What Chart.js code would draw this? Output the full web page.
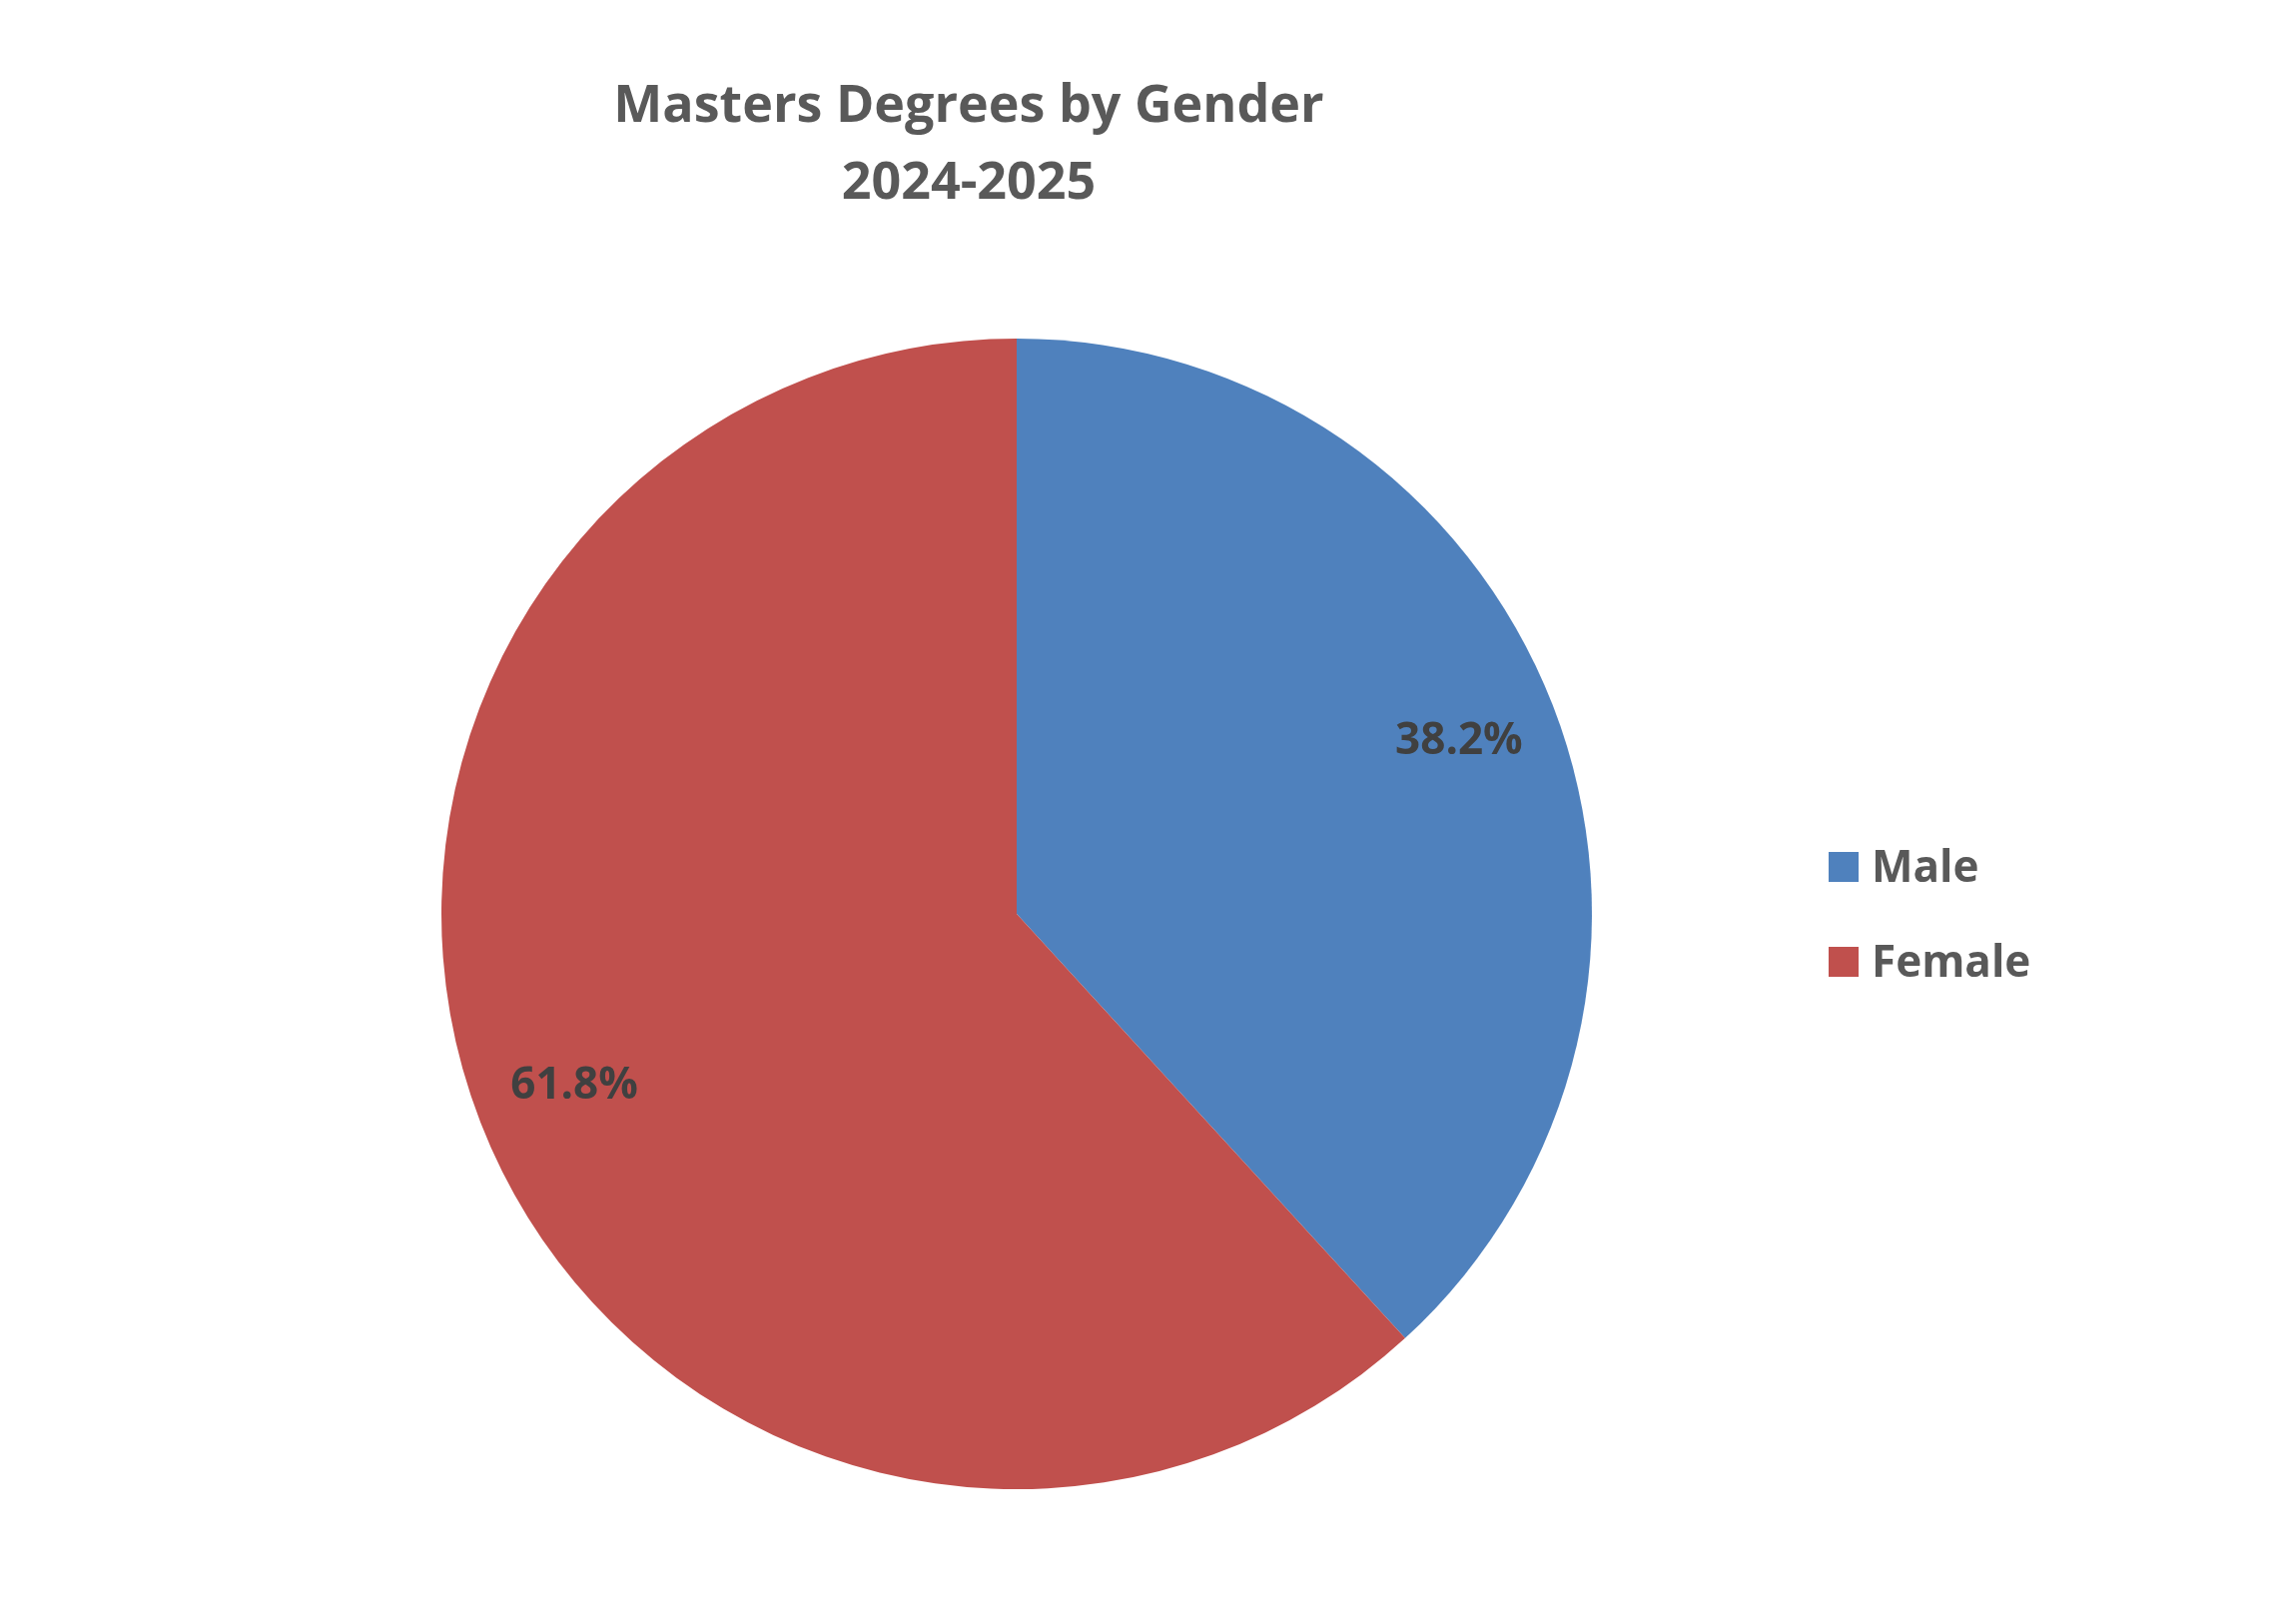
<!DOCTYPE html>
<html><head><meta charset="utf-8">
<script src="https://cdn.jsdelivr.net/npm/chart.js@4/dist/chart.umd.min.js"></script>
<style>html,body{margin:0;padding:0;background:#fff}#w{width:2299px;height:1617px}</style>
</head><body><div id="w"><canvas id="c"></canvas></div>
<script>
const titleLines = ["Masters Degrees by Gender", "2024-2025"];
const categories = ["Male", "Female"];
const values = [38.2, 61.8];
const colors = ["#4F81BD", "#C0504D"];
const FONT = '"Open Sans", "Liberation Sans", sans-serif';

const overlay = {
  id: 'overlay',
  afterDraw(chart) {
    const ctx = chart.ctx;
    ctx.save();
    ctx.textAlign = 'center'; ctx.textBaseline = 'middle';
    ctx.fillStyle = '#595959';
    ctx.font = 'bold 52px ' + FONT;
    ctx.fillText(titleLines[0], 970, 107);
    ctx.fillText(titleLines[1], 970, 184);
    // data labels
    const meta = chart.getDatasetMeta(0);
    ctx.font = 'bold 44px ' + FONT;
    ctx.fillStyle = '#404040';
    meta.data.forEach((arc, i) => {
      const p = arc.getProps(['x','y','startAngle','endAngle','outerRadius'], true);
      const mid = (p.startAngle + p.endAngle) / 2;
      const d = p.outerRadius * 0.825;
      ctx.fillText(values[i].toFixed(1) + '%', p.x + Math.cos(mid) * d, p.y + Math.sin(mid) * d);
    });
    // legend
    ctx.textAlign = 'left';
    ctx.fillStyle = '#595959';
    categories.forEach((c, i) => {
      const y = 868 + i * 95;
      ctx.fillStyle = colors[i];
      ctx.fillRect(1831, y - 15, 30, 30);
      ctx.fillStyle = '#595959';
      ctx.fillText(c, 1874, y + 2);
    });
    ctx.restore();
  }
};

new Chart(document.getElementById('c'), {
  type: 'pie',
  data: { labels: categories, datasets: [{ data: values, backgroundColor: colors, borderWidth: 0 }] },
  options: {
    responsive: true, maintainAspectRatio: false, animation: false,
    layout: { padding: { top: 339, bottom: 126, left: 442, right: 705 } },
    plugins: { legend: { display: false }, tooltip: { enabled: false }, title: { display: false } }
  },
  plugins: [overlay]
});
</script></body></html>
